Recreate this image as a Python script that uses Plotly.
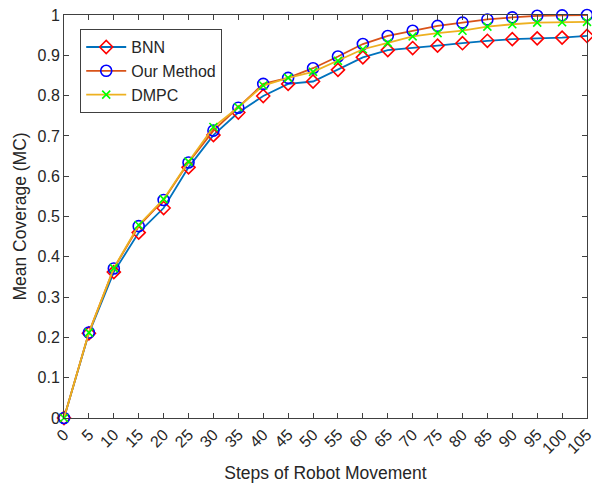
import plotly.graph_objects as go

steps = [0, 5, 10, 15, 20, 25, 30, 35, 40, 45, 50, 55, 60, 65, 70, 75, 80, 85, 90, 95, 100, 105]
bnn = [0.0, 0.210, 0.362, 0.460, 0.521, 0.622, 0.702, 0.758, 0.799, 0.829, 0.835, 0.864, 0.895, 0.913, 0.918, 0.924, 0.930, 0.936, 0.940, 0.942, 0.944, 0.948]
our = [0.0, 0.212, 0.371, 0.476, 0.541, 0.634, 0.713, 0.770, 0.829, 0.844, 0.868, 0.897, 0.928, 0.948, 0.961, 0.973, 0.981, 0.989, 0.994, 0.998, 0.999, 1.0]
dmpc = [0.0, 0.212, 0.372, 0.479, 0.543, 0.636, 0.722, 0.771, 0.825, 0.844, 0.859, 0.886, 0.915, 0.931, 0.947, 0.955, 0.961, 0.971, 0.977, 0.981, 0.982, 0.983]
x_ticks = list(range(0, 106, 5))
y_ticks = [round(i * 0.1, 1) for i in range(11)]

font = "Liberation Sans, Arial, sans-serif"

fig = go.Figure()
fig.add_trace(go.Scatter(x=steps, y=bnn, name="BNN", mode="lines+markers",
                         line=dict(color="#0072BD", width=1.8),
                         marker=dict(symbol="diamond-open", size=10, color="#FF0000", line=dict(width=1.6, color="#FF0000")),
                         cliponaxis=False))
fig.add_trace(go.Scatter(x=steps, y=our, name="Our Method", mode="lines+markers",
                         line=dict(color="#D95319", width=1.8),
                         marker=dict(symbol="circle-open", size=11, color="#0000FF", line=dict(width=1.6, color="#0000FF")),
                         cliponaxis=False))
fig.add_trace(go.Scatter(x=steps, y=dmpc, name="DMPC", mode="lines+markers",
                         line=dict(color="#EDB120", width=1.8),
                         marker=dict(symbol="x-thin-open", size=8, color="#00FF00", line=dict(width=1.6, color="#00FF00")),
                         cliponaxis=False))

axis_common = dict(showline=True, linecolor="#404040", linewidth=1, mirror="ticks",
                   ticks="inside", ticklen=5, tickcolor="#404040", showgrid=False, zeroline=False,
                   automargin=False, ticklabeloverflow="allow",
                   tickfont=dict(family=font, size=16, color="#262626"))

fig.update_layout(
    width=592, height=483,
    margin=dict(l=64, r=5, t=15, b=65),
    paper_bgcolor="white", plot_bgcolor="white",
    font=dict(family=font, color="#262626"),
    xaxis=dict(range=[0, 105], tickvals=x_ticks, ticktext=[str(v) for v in x_ticks], tickangle=-45,
               title=dict(text="Steps of Robot Movement", font=dict(family=font, size=17.5, color="#262626")),
               **axis_common),
    yaxis=dict(range=[0, 1], tickvals=y_ticks, ticktext=[("%g" % v) for v in y_ticks],
               title=dict(text="Mean Coverage (MC)", font=dict(family=font, size=17.5, color="#262626"), standoff=6),
               **axis_common),
    legend=dict(x=0.031, y=0.965, xanchor="left", yanchor="top", bgcolor="white",
                bordercolor="#404040", borderwidth=1, font=dict(family=font, size=16, color="#262626"),
                itemwidth=40, tracegroupgap=0),
    showlegend=True,
)

fig.write_html("out.html", config={"displayModeBar": False},
               post_script="document.body.style.margin='0';document.body.style.overflow='hidden';")
